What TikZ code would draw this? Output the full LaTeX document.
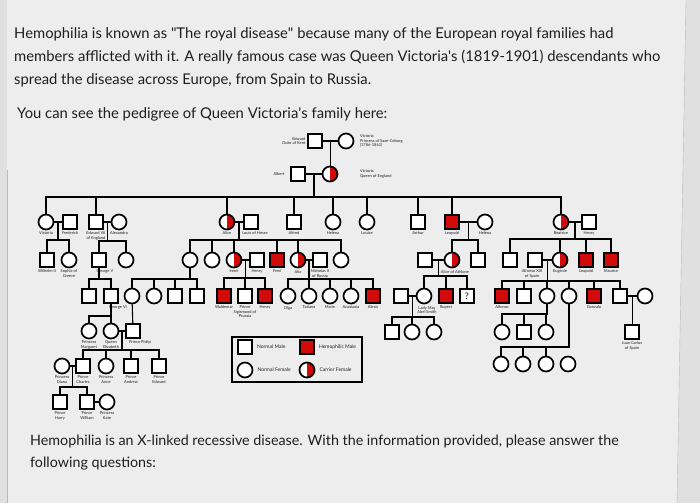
\documentclass[tikz,border=0pt]{standalone}
\usepackage{fontspec}
\setmainfont{Lato}
\usepackage{tikz}
\usetikzlibrary{positioning, calc}
\definecolor{hemored}{HTML}{D10A0A}
\definecolor{inktext}{HTML}{1E1E1E}
\definecolor{screen}{HTML}{EDEDED}
\definecolor{outside}{HTML}{E0E0E0}

\begin{document}
\begin{tikzpicture}[x=1pt, y=-1pt,
  sym/.style={draw, line width=1.7pt, minimum size=14, inner sep=0, fill=white},
  male/.style={sym, rectangle},
  female/.style={sym, circle, minimum size=15},
  hemo/.style={male, fill=hemored},
  carrier/.style={female, path picture={\fill[hemored] (path picture bounding box.north) rectangle (path picture bounding box.south east);}},
  lbl/.style={font=\fontsize{4}{4.6}\selectfont, align=center, inner sep=0, text=inktext},
  txt/.style={font=\fontsize{14.8}{16}\selectfont, text=inktext, inner sep=0, anchor=base west},
  conn/.style={line width=1.1pt},
  label distance=1.5]
\useasboundingbox (0,0) rectangle (700,503);
% screen photo background
\fill[outside] (0,0) rectangle (700,503);
\fill[screen] (7,0) -- (686,0) -- (677,503) -- (7,503) -- cycle;
\draw[gray!55] (686,0) -- (677,503);
\draw[gray!55] (7,170) -- (7,503);

% question text
\node[txt] (p1) at (14,38) {Hemophilia is known as \textquotedbl The royal disease\textquotedbl\ because many of the European royal families had};
\node[txt] (p2) at (14,61) {members afflicted with it. A really famous case was Queen Victoria\textquotesingle s (1819-1901) descendants who};
\node[txt] (p3) at (14,84) {spread the disease across Europe, from Spain to Russia.};
\node[txt] (p4) at (17,118) {You can see the pedigree of Queen Victoria\textquotesingle s family here:};
\node[txt, font=\fontsize{14.3}{16}\selectfont] (q1) at (30,445) {Hemophilia is an X-linked recessive disease. With the information provided, please answer the};
\node[txt, font=\fontsize{14.3}{16}\selectfont] (q2) at (30,467) {following questions:};

% generation I and II
\node[male, label={[lbl, align=right]left:Edward\\Duke of Kent}] (edw) at (315,141) {};
\node[female, label={[lbl, align=left, xshift=4]right:Victoria\\Princess of Saxe-Coburg\\(1786-1861)}] (vsc) at (346,141) {};
\node[male, label={[lbl, xshift=-4]left:Albert}] (alb) at (298,174) {};
\node[carrier, label={[lbl, align=left, xshift=20]right:Victoria\\Queen of England}] (vqe) at (330,174) {};
\coordinate (m1) at ($(edw)!0.5!(vsc)$);
\coordinate (m2) at ($(alb)!0.5!(vqe)$);
\draw[conn] (edw) -- (vsc) (m1) -- (m1 |- vqe.north);
\draw[conn] (alb) -- (vqe);

% generation III
\node[female, label={[lbl]below:Victoria}] (vic3) at (46,222) {};
\node[male, label={[lbl]below:Frederick}] (fre3) at (70,222) {};
\node[male, label={[lbl]below:Edward VII\\of England}] (edw3) at (96,222) {};
\node[female, label={[lbl]below:Alexandra}] (alx3) at (119,222) {};
\node[carrier, label={[lbl]below:Alice}] (ali3) at (227,222) {};
\node[male, label={[lbl, xshift=4]below:Louis of Hesse}] (lou3) at (251,222) {};
\node[male, label={[lbl]below:Alfred}] (alf3) at (294,222) {};
\node[female, label={[lbl]below:Helena}] (hel3) at (333,222) {};
\node[female, label={[lbl]below:Louise}] (lse3) at (367,222) {};
\node[male, label={[lbl]below:Arthur}] (art3) at (418,222) {};
\node[hemo, label={[lbl]below:Leopold}] (leo3) at (452,222) {};
\node[female, label={[lbl]below:Helena}] (heh3) at (485,222) {};
\node[carrier, label={[lbl]below:Beatrice}] (bea3) at (561,222) {};
\node[male, label={[lbl]below:Henry}] (hen3) at (589,222) {};
\coordinate (s2) at ($(m2)+(0,23)$);
\draw[conn] (m2) -- (s2) -| (vic3) (s2) -| (edw3) (s2) -| (ali3) (s2) -| (alf3) (s2) -| (hel3)
  (s2) -| (lse3) (s2) -| (art3) (s2) -| (leo3) (s2) -| (bea3);
\draw[conn] (vic3) -- (fre3) (edw3) -- (alx3) (ali3) -- (lou3) (leo3) -- (heh3) (bea3) -- (hen3);

% generation IV
\node[male, label={[lbl]below:Wilhelm II}] (wil4) at (47,260) {};
\node[female, label={[lbl]below:Sophie of\\Greece}] (sop4) at (69,260) {};
\node[male, label={[lbl, xshift=6]below:George V}] (geo4) at (99,260) {};
\node[female] (mau4) at (126,260) {};
\node[female] (vib4) at (190,260) {};
\node[female] (ell4) at (212,260) {};
\node[carrier, label={[lbl]below:Irene}] (ire4) at (234,260) {};
\node[male, label={[lbl]below:Henry}] (hny4) at (257,260) {};
\node[hemo, label={[lbl]below:Fred}] (frd4) at (277,260) {};
\node[carrier, label={[lbl]below:Alix}] (alx4) at (298,260) {};
\node[male, label={[lbl]below:Nicholas II\\of Russia}] (nic4) at (320,260) {};
\node[female] (mar4) at (341,260) {};
\node[male] (ath4) at (425,260) {};
\node[carrier, label={[lbl, xshift=3]below:Alice of Athlone}] (aat4) at (452,260) {};
\node[male] (cha4) at (478,260) {};
\node[male] (ald4) at (510,260) {};
\node[male, label={[lbl, xshift=-3]below:Alfonso XIII\\of Spain}] (afx4) at (535,260) {};
\node[carrier, label={[lbl]below:Eugenie}] (eug4) at (560,260) {};
\node[hemo, label={[lbl]below:Leopold}] (leo4) at (586,260) {};
\node[hemo, label={[lbl]below:Maurice}] (mce4) at (611,260) {};
\coordinate (m3a) at ($(vic3)!0.5!(fre3)$);
\coordinate (m3b) at ($(edw3)!0.5!(alx3)$);
\coordinate (m3c) at ($(ali3)!0.5!(lou3)$);
\coordinate (m3d) at ($(leo3)!0.5!(heh3)$);
\coordinate (m3e) at ($(bea3)!0.5!(hen3)$);
\coordinate (s3a) at ($(m3a)+(0,18)$);
\coordinate (s3b) at ($(m3b)+(0,19)$);
\coordinate (s3c) at ($(m3c)+(0,18)$);
\coordinate (s3d) at ($(m3d)+(0,18)$);
\coordinate (s3e) at ($(m3e)+(0,17)$);
\draw[conn] (m3a) -- (s3a) -| (wil4) (s3a) -| (sop4);
\draw[conn] (m3b) -- (s3b) -| (geo4) (s3b) -| (mau4);
\draw[conn] (m3c) -- (s3c) -| (vib4) (s3c) -| (ell4) (s3c) -| (ire4) (s3c) -| (frd4) (s3c) -| (alx4) (s3c) -| (mar4);
\draw[conn] (m3d) -- (s3d) -| (aat4) (s3d) -| (cha4);
\draw[conn] (m3e) -- (s3e) -| (ald4) (s3e) -| (eug4) (s3e) -| (leo4) (s3e) -| (mce4);
\draw[conn] (ire4) -- (hny4) (alx4) -- (nic4) (ath4) -- (aat4) (afx4) -- (eug4);

% generation V
\node[male] (edd5) at (89,296) {};
\node[male, label={[lbl, xshift=7]below:George VI}] (geo5) at (111,296) {};
\node[female] (alb5) at (132,296) {};
\node[female] (lob5) at (154,296) {};
\node[male] (gob5) at (175,296) {};
\node[male] (lub5) at (197,296) {};
\node[hemo, label={[lbl]below:Waldemar}] (wal5) at (224,296) {};
\node[male, label={[lbl]below:Prince\\Sigismund of\\Prussia}] (sig5) at (245,296) {};
\node[hemo, label={[lbl]below:Henry}] (hry5) at (265,296) {};
\node[female, label={[lbl]below:Olga}] (olg5) at (288,296) {};
\node[female, label={[lbl]below:Tatiana}] (tat5) at (309,296) {};
\node[female, label={[lbl]below:Marie}] (mri5) at (330,296) {};
\node[female, label={[lbl]below:Anastasia}] (ana5) at (351,296) {};
\node[hemo, label={[lbl]below:Alexis}] (alx5) at (373,296) {};
\node[male] (abs5) at (401,296) {};
\node[female, label={[lbl, xshift=3]below:Lady May\\Abel Smith}] (may5) at (424,296) {};
\node[hemo, label={[lbl]below:Rupert}] (rup5) at (446,296) {};
\node[male, font=\fontsize{9}{9}\selectfont] (unk5) at (467,296) {?};
\node[hemo, label={[lbl]below:Alfonso}] (alf5) at (502,296) {};
\node[male] (jai5) at (524,296) {};
\node[female] (bea5) at (547,296) {};
\node[female] (mcr5) at (569,296) {};
\node[hemo, label={[lbl]below:Gonzalo}] (gon5) at (594,296) {};
\node[male] (jua5) at (620,296) {};
\node[female] (mer5) at (645,296) {};
\coordinate (m4a) at ($(ire4)!0.5!(hny4)$);
\coordinate (m4b) at ($(alx4)!0.5!(nic4)$);
\coordinate (m4c) at ($(ath4)!0.5!(aat4)$);
\coordinate (m4d) at ($(afx4)!0.5!(eug4)$);
\coordinate (s4g) at ($(geo4)+(0,19)$);
\coordinate (s4v) at ($(vib4)+(0,19)$);
\coordinate (s4a) at ($(m4a)+(0,18)$);
\coordinate (s4b) at ($(m4b)+(0,19)$);
\coordinate (s4c) at ($(m4c)+(0,16)$);
\coordinate (s4d) at ($(m4d)+(0,21)$);
\draw[conn] (geo4) -- (s4g) -| (edd5) (s4g) -| (geo5);
\draw[conn] (vib4) -- (s4v) -| (alb5) (s4v) -| (lob5) (s4v) -| (gob5) (s4v) -| (lub5);
\draw[conn] (m4a) -- (s4a) -| (wal5) (s4a) -| (sig5) (s4a) -| (hry5);
\draw[conn] (m4b) -- (s4b) -| (olg5) (s4b) -| (tat5) (s4b) -| (mri5) (s4b) -| (ana5) (s4b) -| (alx5);
\draw[conn] (m4c) -- (s4c) -| (may5) (s4c) -| (rup5) (s4c) -| (unk5);
\draw[conn] (m4d) -- (s4d) -| (alf5) (s4d) -| (jai5) (s4d) -| (bea5) (s4d) -| (mcr5) (s4d) -| (gon5) (s4d) -| (jua5);
\draw[conn] (abs5) -- (may5) (jua5) -- (mer5);

% generation VI
\node[female, label={[lbl]below:Princess\\Margaret}] (mgt6) at (89,331) {};
\node[female, label={[lbl]below:Queen\\Elizabeth}] (eli6) at (111,331) {};
\node[male, label={[lbl, xshift=7]below:Prince Philip}] (phi6) at (133,331) {};
\node[male] (abs6) at (392,332) {};
\node[female] (abs6b) at (412,332) {};
\node[female] (abs6c) at (434,332) {};
\node[female] (bea6) at (502,332) {};
\node[male] (bea6b) at (524,332) {};
\node[female] (bea6c) at (546,332) {};
\node[male, label={[lbl]below:Juan Carlos\\of Spain}] (jca6) at (632,332) {};
\node[female] (mcr6) at (501,364) {};
\node[female] (mcr6b) at (523,364) {};
\node[female] (mcr6c) at (546,364) {};
\node[female] (mcr6d) at (568,364) {};
\coordinate (m5a) at ($(abs5)!0.5!(may5)$);
\coordinate (m5b) at ($(jua5)!0.5!(mer5)$);
\coordinate (s5g) at ($(geo5)+(0,20)$);
\coordinate (s5a) at ($(m5a)+(0,21)$);
\coordinate (s5b) at ($(bea5)+(0,18)$);
\coordinate (s5c) at ($(mcr5)+(0,51)$);
\draw[conn] (geo5) -- (s5g) -| (mgt6) (s5g) -| (eli6);
\draw[conn] (alb5) -- (phi6);
\draw[conn] (m5a) -- (s5a) -| (abs6) (s5a) -| (abs6b) (s5a) -| (abs6c);
\draw[conn] (bea5) -- (s5b) -| (bea6) (s5b) -| (bea6b) (s5b) -| (bea6c);
\draw[conn] (m5b) -- (m5b |- jca6.north);
\draw[conn] (mcr5) -- (s5c) -| (mcr6) (s5c) -| (mcr6b) (s5c) -| (mcr6c);
\draw[conn] (eli6) -- (phi6);

% generation VII and VIII
\node[female, label={[lbl]below:Princess\\Diana}] (dia7) at (62,366) {};
\node[male, label={[lbl]below:Prince\\Charles}] (chs7) at (83,366) {};
\node[female, label={[lbl]below:Princess\\Anne}] (ann7) at (106,366) {};
\node[male, label={[lbl]below:Prince\\Andrew}] (and7) at (131,366) {};
\node[male, label={[lbl]below:Prince\\Edward}] (edw7) at (159,366) {};
\node[male, label={[lbl]below:Prince\\Harry}] (har8) at (60,402) {};
\node[male, label={[lbl]below:Prince\\William}] (wil8) at (87,402) {};
\node[female, label={[lbl]below:Princess\\Kate}] (kat8) at (107,402) {};
\coordinate (m6) at ($(eli6)!0.5!(phi6)$);
\coordinate (m7) at ($(dia7)!0.5!(chs7)$);
\coordinate (s6) at ($(m6)+(0,19)$);
\coordinate (s7) at ($(m7)+(0,21)$);
\draw[conn] (m6) -- (s6) -| (chs7) (s6) -| (ann7) (s6) -| (and7) (s6) -| (edw7);
\draw[conn] (dia7) -- (chs7) (m7) -- (s7) -| (har8) (s7) -| (wil8);
\draw[conn] (wil8) -- (kat8);

% legend
\node[draw, line width=1.2pt, minimum width=130, minimum height=45, inner sep=0] (key) at (297,359.5) {};
\node[male, label={[lbl, font=\fontsize{5}{6}\selectfont, label distance=4]right:Normal Male}] (kmale) at (245,347) {};
\node[hemo, label={[lbl, font=\fontsize{5}{6}\selectfont, label distance=4]right:Hemophilic Male}] (khemo) at (307,347) {};
\node[female, label={[lbl, font=\fontsize{5}{6}\selectfont, label distance=4]right:Normal Female}] (kfem) at (245,370) {};
\node[carrier, label={[lbl, font=\fontsize{5}{6}\selectfont, label distance=4]right:Carrier Female}] (kcar) at (307,370) {};
\end{tikzpicture}
\end{document}
